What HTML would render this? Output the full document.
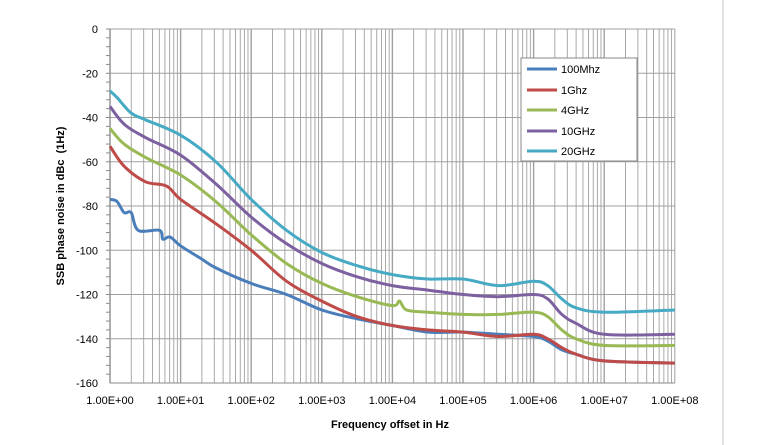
<!DOCTYPE html>
<html><head><meta charset="utf-8"><style>
html,body{margin:0;padding:0;background:#fff}
svg{display:block;font-family:"Liberation Sans",sans-serif}
</style></head><body>
<svg id="s" width="768" height="445" viewBox="0 0 768 445" xmlns="http://www.w3.org/2000/svg">
<line x1="723" y1="0" x2="723" y2="445" stroke="#d9d9d9" stroke-width="1.5"/>
<g id="grid"></g>
<g id="series"></g>
<rect x="521" y="58" width="116" height="103" fill="#fff" stroke="#888" stroke-width="1"/>
<g font-size="11" fill="#000">
<line x1="527" y1="69" x2="557" y2="69" stroke="#4a7ebb" stroke-width="3"/><text x="561" y="73">100Mhz</text>
<line x1="527" y1="90" x2="557" y2="90" stroke="#be4b48" stroke-width="3"/><text x="561" y="94">1Ghz</text>
<line x1="527" y1="110" x2="557" y2="110" stroke="#98b954" stroke-width="3"/><text x="561" y="114">4GHz</text>
<line x1="527" y1="131" x2="557" y2="131" stroke="#7d60a0" stroke-width="3"/><text x="561" y="135">10GHz</text>
<line x1="527" y1="151" x2="557" y2="151" stroke="#46aac5" stroke-width="3"/><text x="561" y="155">20GHz</text>
</g>
<text x="390" y="428" font-size="11" font-weight="bold" text-anchor="middle">Frequency offset in Hz</text>
<text transform="translate(64,206) rotate(-90)" font-size="11" font-weight="bold" text-anchor="middle" xml:space="preserve">SSB phase noise in dBc  (1Hz)</text>
<g id="labels" font-size="11" fill="#000"></g>
</svg>
<script>
var L=110,T=29,W=70.6,R=L+8*W,B=383;
function X(d){return L+W*d}function Y(v){return T-v*2.2125}
var g=document.getElementById('grid'),lb=document.getElementById('labels'),h='',l='';
for(var v=0;v>=-160;v-=20){h+='<line x1="'+L+'" y1="'+Y(v)+'" x2="'+R+'" y2="'+Y(v)+'" stroke="#a0a0a0" stroke-width="1"/>';
l+='<text x="98" y="'+(Y(v)+4)+'" text-anchor="end">'+v+'</text>';}
for(v=0;v>-160;v-=4){h+='<line x1="'+(L-4)+'" y1="'+Y(v)+'" x2="'+L+'" y2="'+Y(v)+'" stroke="#888"/>';}
for(var d=0;d<8;d++){for(var k=1;k<10;k++){var x=X(d+Math.log10(k));h+='<line x1="'+x+'" y1="'+T+'" x2="'+x+'" y2="'+B+'" stroke="#a0a0a0" stroke-width="'+(k==1?1.4:0.9)+'"/>';}}
h+='<line x1="'+R+'" y1="'+T+'" x2="'+R+'" y2="'+B+'" stroke="#a0a0a0"/>';
h+='<line x1="'+L+'" y1="'+T+'" x2="'+L+'" y2="'+B+'" stroke="#888"/><line x1="'+L+'" y1="'+B+'" x2="'+R+'" y2="'+B+'" stroke="#888"/>';
for(d=0;d<=8;d++)l+='<text x="'+X(d)+'" y="404" text-anchor="middle">1.00E+0'+d+'</text>';
g.innerHTML=h;lb.innerHTML=l;
var S=[
['#4a7ebb',[[0,-77],[0.1,-78],[0.2,-83],[0.3,-83],[0.4,-91],[0.7,-91],[0.75,-95],[0.85,-94],[1,-98],[1.3,-104],[1.5,-108],[2,-115],[2.5,-120],[3,-127],[3.5,-131],[4,-134],[4.5,-137],[5,-137],[5.5,-138],[6,-139],[6.2,-141],[6.4,-145],[6.6,-147],[7,-150],[8,-151]]],
['#be4b48',[[0,-53],[0.2,-62],[0.5,-69],[0.8,-71],[1,-77],[1.5,-88],[2,-100],[2.5,-114],[3,-123],[3.5,-130],[4,-134],[4.5,-136],[5,-137],[5.5,-139],[6,-138],[6.2,-140],[6.4,-144],[6.6,-147],[7,-150],[8,-151]]],
['#98b954',[[0,-45],[0.2,-52],[0.5,-58],[1,-66],[1.5,-78],[2,-93],[2.5,-106],[3,-115],[3.5,-121],[4,-125],[4.1,-123],[4.2,-127],[4.5,-128],[5,-129],[5.5,-129],[6,-128],[6.2,-130],[6.4,-136],[6.6,-140],[7,-143],[8,-143]]],
['#7d60a0',[[0,-35],[0.2,-43],[0.5,-49],[1,-57],[1.5,-70],[2,-85],[2.5,-97],[3,-106],[3.5,-112],[4,-116],[4.5,-118],[5,-120],[5.5,-121],[6,-120],[6.2,-122],[6.4,-129],[6.6,-133],[7,-138],[8,-138]]],
['#46aac5',[[0,-28],[0.1,-31],[0.3,-38],[0.5,-41],[1,-48],[1.5,-60],[2,-77],[2.5,-91],[3,-101],[3.5,-107],[4,-111],[4.5,-113],[5,-113],[5.5,-116],[6,-114],[6.2,-116],[6.4,-122],[6.6,-126],[7,-128],[8,-127]]]];
function path(p){var q=p.map(function(a){return [X(a[0]),Y(a[1])]});var s='M'+q[0][0].toFixed(1)+','+q[0][1].toFixed(1);
for(var i=0;i<q.length-1;i++){var p0=q[i-1]||q[i],p1=q[i],p2=q[i+1],p3=q[i+2]||p2;
var c1=[p1[0]+(p2[0]-p0[0])/6,p1[1]+(p2[1]-p0[1])/6],c2=[p2[0]-(p3[0]-p1[0])/6,p2[1]-(p3[1]-p1[1])/6];
s+=' C'+c1[0].toFixed(1)+','+c1[1].toFixed(1)+' '+c2[0].toFixed(1)+','+c2[1].toFixed(1)+' '+p2[0].toFixed(1)+','+p2[1].toFixed(1);}return s;}
var sh='';S.forEach(function(s){sh+='<path fill="none" stroke="'+s[0]+'" stroke-width="3" stroke-linejoin="round" d="'+path(s[1])+'"/>';});
document.getElementById('series').innerHTML=sh;
</script>
</body></html>
